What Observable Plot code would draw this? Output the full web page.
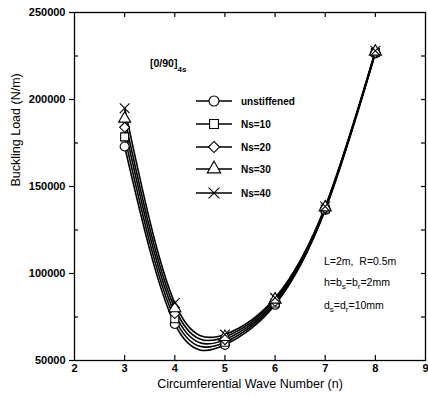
<!DOCTYPE html>
<html>
<head>
<meta charset="utf-8">
<script src="https://cdn.jsdelivr.net/npm/d3@7"></script>
<script src="https://cdn.jsdelivr.net/npm/@observablehq/plot@0.6"></script>
<style>
  html, body { margin: 0; padding: 0; background: white; }
  svg { display: block; }
</style>
</head>
<body>
<script>
// ---- data ----
const waveNumbers = [3, 4, 5, 6, 7, 8];
const seriesNames = ["unstiffened", "Ns=10", "Ns=20", "Ns=30", "Ns=40"];
const unstiffened = [173000, 71000, 59000, 82000, 136500, 226500];
const ns10 = [178500, 74000, 60500, 83000, 137000, 227000];
const ns20 = [184000, 77000, 62000, 84000, 137500, 227000];
const ns30 = [189000, 80000, 63500, 85000, 138000, 227500];
const ns40 = [195000, 83000, 65000, 86000, 138500, 228000];
const xTicks = [2, 3, 4, 5, 6, 7, 8, 9];
const yTicks = [50000, 100000, 150000, 200000, 250000];
const yMinorTicks = [75000, 125000, 175000, 225000];
const symbolNames = ["circle", "square", "diamond2", "triangle", "times"];

const seriesValues = [unstiffened, ns10, ns20, ns30, ns40];
const rows = [];
seriesNames.forEach((s, i) => {
  waveNumbers.forEach((n, j) => rows.push({series: s, n, load: seriesValues[i][j]}));
});

const W = 428, H = 396;
const mL = 74, mR = 3, mT = 12, mB = 36;
const innerW = W - mL - mR, innerH = H - mT - mB;
const font = "'Liberation Sans', Arial, Helvetica, sans-serif";

const plot = Plot.plot({
  width: W, height: H,
  marginLeft: mL, marginRight: mR, marginTop: mT, marginBottom: mB,
  style: {fontFamily: font, background: "white", color: "black"},
  x: {domain: [2, 9]},
  y: {domain: [50000, 250000]},
  symbol: {domain: seriesNames, range: symbolNames},
  marks: [
    Plot.frame({stroke: "black", strokeWidth: 1.3}),
    Plot.axisX(xTicks, {tickSize: 0, tickPadding: 4, fontSize: 11, fontWeight: "bold", label: null}),
    Plot.axisY(yTicks, {tickSize: 5, tickPadding: 4, fontSize: 11, fontWeight: "bold", label: null, tickFormat: d => String(d), strokeWidth: 1.2}),
    Plot.ruleX(xTicks.slice(1, -1), {x: d => d, insetTop: innerH - 5, stroke: "black", strokeWidth: 1.2}),
    Plot.ruleX(xTicks.slice(1, -1), {x: d => d, insetBottom: innerH - 5, stroke: "black", strokeWidth: 1.2}),
    Plot.ruleY(yMinorTicks, {y: d => d, insetRight: innerW - 4, stroke: "black", strokeWidth: 1.2}),
    Plot.ruleY(yMinorTicks.concat(yTicks.slice(1, -1)), {y: d => d, insetLeft: innerW - 4, stroke: "black", strokeWidth: 1.2}),
    Plot.text(["Circumferential Wave Number (n)"], {frameAnchor: "bottom", lineAnchor: "middle", dy: 23, fontSize: 12.5, text: d => d}),
    Plot.text(["Buckling Load (N/m)"], {frameAnchor: "left", dx: -59, rotate: -90, fontSize: 12.5, text: d => d}),
    Plot.line(rows, {x: "n", y: "load", z: "series", curve: "natural", stroke: "black", strokeWidth: 1.6}),
    Plot.dot(rows, {x: "n", y: "load", symbol: "series", r: 4.5, fill: "white", stroke: "black", strokeWidth: 1.1})
  ]
});
document.body.append(plot);

const svg = d3.select(plot);
const symTypes = [d3.symbolCircle, d3.symbolSquare, d3.symbolDiamond2, d3.symbolTriangle, d3.symbolTimes];
const lg = svg.append("g").attr("font-family", font).attr("text-anchor", "start");
const legendY = [101, 124, 147, 169, 193];
seriesNames.forEach((s, i) => {
  const y = legendY[i];
  lg.append("line").attr("x1", 196).attr("x2", 232).attr("y1", y).attr("y2", y)
    .attr("stroke", "black").attr("stroke-width", 1.3);
  lg.append("path").attr("transform", `translate(214,${y})`)
    .attr("d", d3.symbol(symTypes[i], 5 * 5 * Math.PI)())
    .attr("fill", "white").attr("stroke", "black").attr("stroke-width", 1.1);
  lg.append("text").attr("x", 241).attr("y", y).attr("dy", "0.35em")
    .attr("font-size", 10).attr("font-weight", "bold").text(s);
});

const ann = svg.append("g").attr("font-family", font).attr("fill", "black").attr("text-anchor", "start");
const t0 = ann.append("text").attr("x", 150).attr("y", 67).attr("font-size", 10.5).attr("font-weight", "bold");
t0.append("tspan").text("[0/90]");
t0.append("tspan").attr("dy", 5).attr("font-size", 8).text("4s");

function subText(x, y, parts) {
  const t = ann.append("text").attr("x", x).attr("y", y + 4).attr("font-size", 10.5);
  let wasSub = false;
  parts.forEach(([str, sub]) => {
    const ts = t.append("tspan").text(str);
    if (sub && !wasSub) ts.attr("dy", 3).attr("font-size", 8);
    else if (sub) ts.attr("font-size", 8);
    else if (wasSub) ts.attr("dy", -3);
    wasSub = sub;
  });
}
subText(324, 261, [["L=2m,  R=0.5m", false]]);
subText(324, 282, [["h=b", false], ["s", true], ["=b", false], ["r", true], ["=2mm", false]]);
subText(324, 305, [["d", false], ["s", true], ["=d", false], ["r", true], ["=10mm", false]]);
</script>
</body>
</html>
